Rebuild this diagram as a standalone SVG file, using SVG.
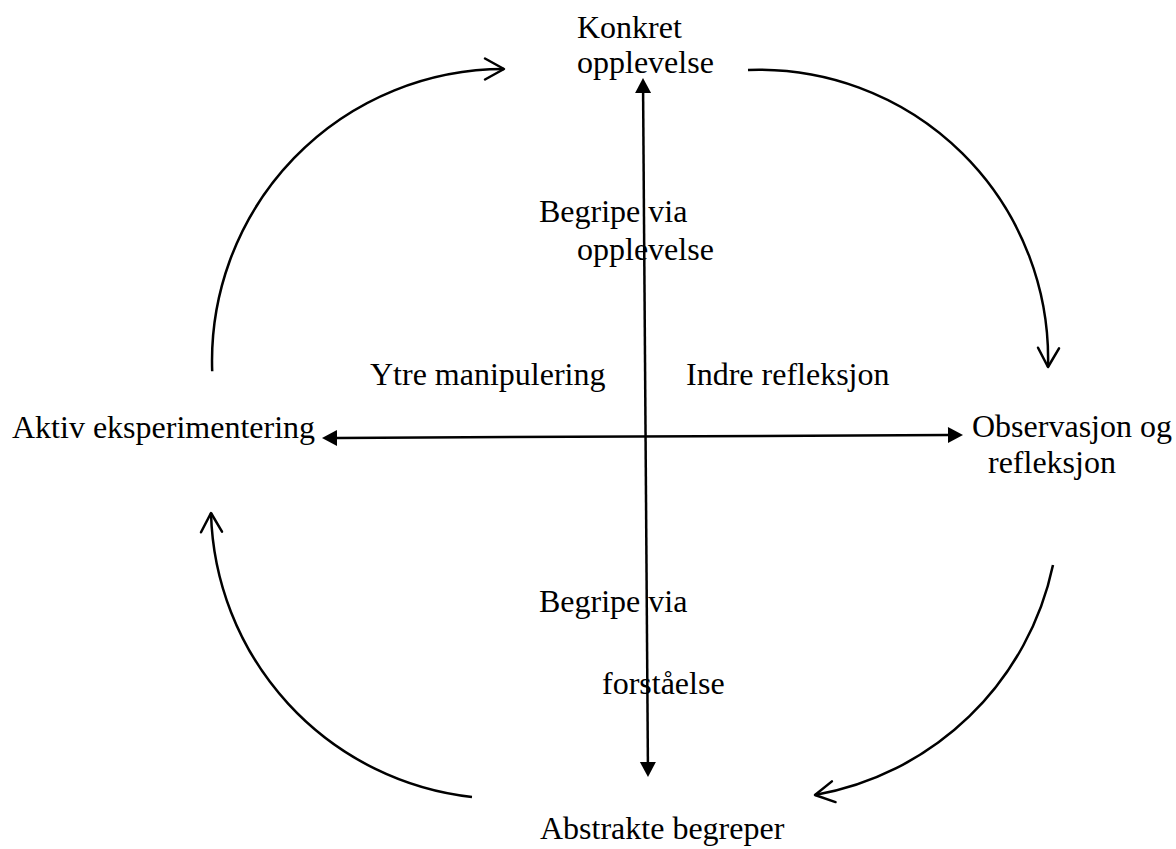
<svg xmlns="http://www.w3.org/2000/svg" width="1176" height="849" viewBox="0 0 1176 849">
  <style>
    text { font-family: "Liberation Serif", "Times New Roman", serif; font-size: 32px; fill: #000; }
    .arc { fill: none; stroke: #000; stroke-width: 2.5; marker-end: url(#open); }
    .axis { fill: none; stroke: #000; stroke-width: 2.5; marker-start: url(#tri); marker-end: url(#tri); }
  </style>
  <defs>
    <!-- open V head for the cycle arcs -->
    <marker id="open" markerUnits="userSpaceOnUse" orient="auto" refX="0" refY="0" markerWidth="40" markerHeight="40" overflow="visible">
      <path d="M -19 -10.5 L 0 0 L -19 10.5" fill="none" stroke="#000" stroke-width="2.5" stroke-linejoin="round" stroke-linecap="round"/>
    </marker>
    <!-- solid triangle head for the two axes; lines stop at the head's base -->
    <marker id="tri" markerUnits="userSpaceOnUse" orient="auto-start-reverse" refX="0" refY="0" markerWidth="40" markerHeight="40" overflow="visible">
      <path d="M 0 -8 L 15 0 L 0 8 Z" fill="#000"/>
    </marker>
  </defs>

  <g id="connectors">
    <!-- cycle: top-left, top-right, bottom-right, bottom-left -->
    <path class="arc" d="M 212.2 371.2 A 292 292 0 0 1 504 69"/>
    <path class="arc" d="M 748 70 A 289.2 289.2 0 0 1 1048 367"/>
    <path class="arc" d="M 1053 565 A 295.4 295.4 0 0 1 815 795"/>
    <path class="arc" d="M 472 797 A 293.5 293.5 0 0 1 211 513"/>
    <!-- vertical and horizontal axes -->
    <path class="axis" d="M 643.1 93 L 647.9 762"/>
    <path class="axis" d="M 337 437.9 L 948 435.1"/>
  </g>

  <g id="konkret-opplevelse">
    <text x="577" y="38">Konkret</text>
    <text x="577" y="73">opplevelse</text>
  </g>
  <g id="observasjon-refleksjon">
    <text x="972" y="437">Observasjon og</text>
    <text x="988" y="473">refleksjon</text>
  </g>
  <g id="abstrakte-begreper">
    <text x="540" y="839">Abstrakte begreper</text>
  </g>
  <g id="aktiv-eksperimentering">
    <text x="12" y="438">Aktiv eksperimentering</text>
  </g>
  <g id="begripe-via-opplevelse">
    <text x="539" y="222">Begripe via</text>
    <text x="577" y="260">opplevelse</text>
  </g>
  <g id="begripe-via-forstaelse">
    <text x="539" y="612">Begripe via</text>
    <text x="602" y="694">forståelse</text>
  </g>
  <g id="ytre-manipulering">
    <text x="370" y="385">Ytre manipulering</text>
  </g>
  <g id="indre-refleksjon">
    <text x="686" y="385">Indre refleksjon</text>
  </g>
</svg>
